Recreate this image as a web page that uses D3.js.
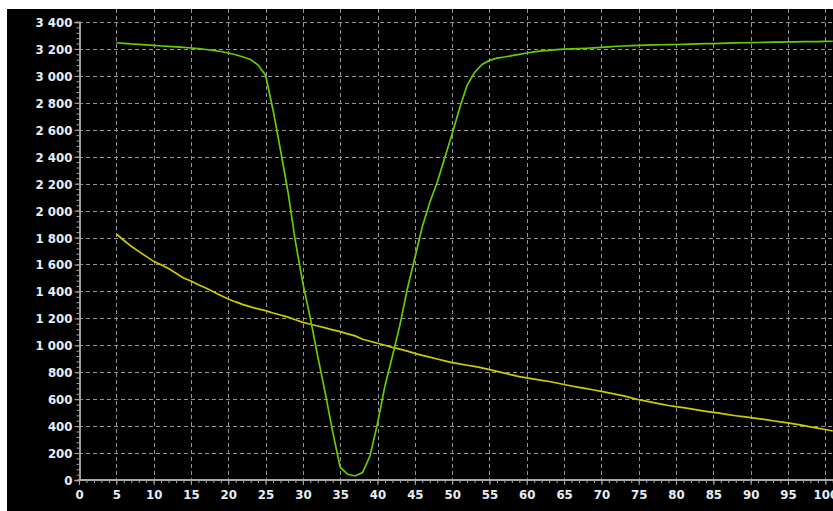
<!DOCTYPE html>
<html>
<head>
<meta charset="utf-8">
<script src="https://cdn.jsdelivr.net/npm/d3@7"></script>
<style>
  html, body { margin: 0; padding: 0; background: #ffffff; }
  svg { display: block; }
</style>
</head>
<body>
<script>
// ---- data ----
const xTicks = [0,5,10,15,20,25,30,35,40,45,50,55,60,65,70,75,80,85,90,95,100];
const yTicks = [0,200,400,600,800,1000,1200,1400,1600,1800,2000,2200,2400,2600,2800,3000,3200,3400];

const tValues = [5,6,7,8,9,10,11,12,13,14,15,16,17,18,19,20,21,22,23,24,25,26,27,28,29,30,31,32,33,34,35,36,37,38,39,40,41,42,43,44,45,46,47,48,49,50,51,52,53,54,55,56,57,58,59,60,61,62,63,64,65,66,67,68,69,70,71,72,73,74,75,76,77,78,79,80,81,82,83,84,85,86,87,88,89,90,91,92,93,94,95,96,97,98,99,100,101];

const greenValues = [3246,3242,3237,3234,3230,3226,3222,3219,3216,3212,3207,3202,3196,3189,3181,3170,3157,3140,3122,3080,3005,2747,2450,2140,1770,1460,1200,915,645,355,95,42,30,55,180,420,700,920,1150,1420,1650,1880,2060,2210,2390,2570,2760,2930,3025,3085,3115,3132,3140,3150,3160,3170,3178,3185,3190,3195,3198,3200,3202,3205,3208,3212,3216,3220,3222,3224,3226,3228,3230,3231,3232,3233,3234,3236,3238,3239,3240,3241,3243,3245,3246,3247,3248,3249,3250,3251,3252,3253,3254,3255,3255,3256,3257];

const yellowValues = [1826,1780,1735,1697,1660,1623,1598,1570,1535,1500,1478,1450,1425,1398,1370,1344,1322,1302,1285,1270,1257,1240,1225,1209,1190,1170,1156,1143,1129,1115,1101,1085,1070,1045,1030,1015,1000,985,972,957,940,925,912,898,884,871,862,852,843,832,819,806,793,780,768,758,749,740,731,720,709,698,688,678,668,658,647,636,624,610,596,585,574,563,553,545,537,528,519,510,502,494,485,477,470,463,456,448,440,432,424,415,405,395,385,375,364];

// ---- layout ----
const W = 833, H = 511;
const svg = d3.select("body").append("svg").attr("width", W).attr("height", H);

svg.append("rect").attr("x", 7).attr("y", 9).attr("width", W - 7).attr("height", H - 9).attr("fill", "#000000");

const x = d3.scaleLinear().domain([0, 100]).range([79, 825.3]);
const y = d3.scaleLinear().domain([0, 3400]).range([480, 22]);

const loc = d3.formatLocale({decimal: ".", thousands: " ", grouping: [3], currency: ["", ""]});
const fmt = loc.format(",");

const gridColor = "#969696";
const axisColor = "#a8a8a8";
const textColor = "#e6eef6";
const fontFam = "'DejaVu Sans', Verdana, sans-serif";

// grid
const grid = svg.append("g");
grid.selectAll("line.h").data(yTicks.filter(v => v > 0)).enter().append("line")
  .attr("x1", 79).attr("x2", W).attr("y1", d => Math.round(y(d)) + 0.5).attr("y2", d => Math.round(y(d)) + 0.5)
  .attr("stroke", gridColor).attr("stroke-width", 1).attr("stroke-dasharray", "4,3");
grid.selectAll("line.v").data(xTicks.filter(v => v > 0)).enter().append("line")
  .attr("y1", 9).attr("y2", 480).attr("x1", d => Math.round(x(d)) + 0.5).attr("x2", d => Math.round(x(d)) + 0.5)
  .attr("stroke", gridColor).attr("stroke-width", 1).attr("stroke-dasharray", "4,3");

// clip
svg.append("clipPath").attr("id", "clip").append("rect")
  .attr("x", 79).attr("y", 9).attr("width", W - 79).attr("height", 471);

const line = d3.line().x((d, i) => x(tValues[i])).y(d => y(d)).curve(d3.curveLinear);

const plot = svg.append("g").attr("clip-path", "url(#clip)");
plot.append("path").datum(yellowValues).attr("d", line)
  .attr("fill", "none").attr("stroke", "#cccc00").attr("stroke-width", 1.7);
plot.append("path").datum(greenValues).attr("d", line)
  .attr("fill", "none").attr("stroke", "#66cc00").attr("stroke-width", 1.7);

// y axis
const yMinor = d3.range(0, 3401, 40);
const gy = svg.append("g").attr("transform", "translate(79.5,0)");
gy.call(d3.axisLeft(y).tickValues(yMinor).tickSize(3).tickFormat(""));
const gyMaj = svg.append("g").attr("transform", "translate(79.5,0)");
gyMaj.call(d3.axisLeft(y).tickValues(yTicks).tickSize(5).tickPadding(2).tickFormat(fmt));
[gy, gyMaj].forEach(g => {
  g.select(".domain").attr("stroke", axisColor).attr("stroke-width", 1.5);
  g.selectAll(".tick line").attr("stroke", axisColor);
});
gyMaj.selectAll("text").attr("fill", textColor).attr("font-family", fontFam)
  .attr("font-weight", "bold").attr("font-size", "11.8px").attr("dy", "0.38em");

// x axis
const xMinor = d3.range(0, 102, 1);
const gx = svg.append("g").attr("transform", "translate(0,480)");
gx.call(d3.axisBottom(x).tickValues(xMinor).tickSize(3).tickFormat("").tickSizeOuter(0));
const gxMaj = svg.append("g").attr("transform", "translate(0,480)");
gxMaj.call(d3.axisBottom(x).tickValues(xTicks).tickSize(5).tickPadding(6).tickFormat(d3.format("d")).tickSizeOuter(0));
[gx, gxMaj].forEach(g => {
  g.select(".domain").remove();
  g.selectAll(".tick line").attr("stroke", axisColor);
});
gxMaj.selectAll("text").attr("fill", textColor).attr("font-family", fontFam)
  .attr("font-weight", "bold").attr("font-size", "11.8px");
svg.append("line").attr("x1", 78).attr("x2", W).attr("y1", 480).attr("y2", 480)
  .attr("stroke", axisColor).attr("stroke-width", 2);
</script>
</body>
</html>
